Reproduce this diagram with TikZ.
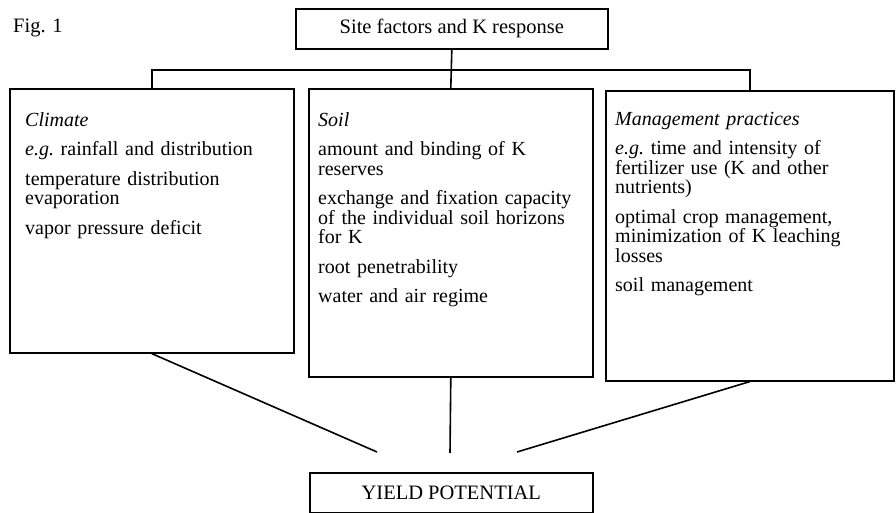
\documentclass[tikz,border=0pt]{standalone}
\usepackage{fontspec}
\setmainfont{Liberation Serif}
\begin{document}
\begin{tikzpicture}[x=1pt,y=-1pt,
  frame/.style={draw,line width=1.6pt,inner sep=0pt,anchor=north west},
  body/.style={anchor=north west,align=left,inner sep=0pt,text width=275pt,
    font=\fontsize{20}{19.5}\selectfont},
  link/.style={line width=1.6pt},
  lbl/.style={font=\fontsize{20.5}{20}\selectfont}]
\useasboundingbox (0,0) rectangle (896,513);

\node[lbl,anchor=north west,inner sep=0pt] (fig) at (13,19) {Fig. 1};

% top box
\node[frame,minimum width=312pt,minimum height=40pt,lbl] (top) at (295,8) {Site factors and K response};

% three factor boxes
\node[frame,minimum width=284pt,minimum height=264pt] (climate) at (9,88) {};
\node[frame,minimum width=284pt,minimum height=288pt] (soil) at (308,88) {};
\node[frame,minimum width=288pt,minimum height=290pt] (mgmt) at (605,90) {};

\node[body] (climatetext) at (25,112) {%
\textit{Climate}\\[10pt]
\textit{e.g.}\ rainfall and distribution\\[10pt]
temperature distribution\\
evaporation\\[10pt]
vapor pressure deficit};

\node[body] (soiltext) at (318,112) {%
\textit{Soil}\\[10pt]
amount and binding of K\\
reserves\\[10pt]
exchange and fixation capacity\\
of the individual soil horizons\\
for K\\[10pt]
root penetrability\\[10pt]
water and air regime};

\node[body] (mgmttext) at (615,112) {%
\textit{Management practices}\\[10pt]
\textit{e.g.}\ time and intensity of\\
fertilizer use (K and other\\
nutrients)\\[10pt]
optimal crop management,\\
minimization of K leaching\\
losses\\[10pt]
soil management};

% result box
\node[frame,minimum width=283pt,minimum height=40pt,lbl] (yield) at (309,472) {YIELD POTENTIAL};

% connectors on top
\coordinate (bar) at (0,70);
\draw[link] (top.south) -- (soil.north);
\draw[link] (climate.north) -- (climate.north |- bar) -- (mgmt.north |- bar) -- (mgmt.north);

% converging connectors
\coordinate (yl) at (377,452);
\coordinate (yc) at (450,453);
\coordinate (yr) at (517,452);
\draw[link] (climate.south) -- (yl);
\draw[link] (soil.south) -- (yc);
\draw[link] (mgmt.south) -- (yr);
\end{tikzpicture}
\end{document}
